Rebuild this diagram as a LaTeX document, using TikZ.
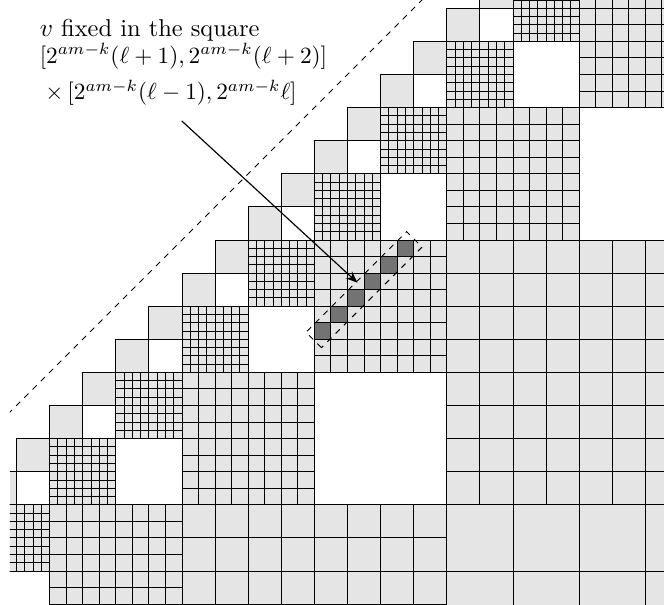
\documentclass[tikz,border=0pt]{standalone}
\usetikzlibrary{arrows.meta}
\newcommand\gridsq[3]{%
  \pgfmathsetmacro\gst{#3/8}%
  \fill[cellfill] (#1,#2) rectangle ++(#3,#3);
  \draw[gridline,shift={(#1,#2)}] (0,0) grid[step=\gst] (#3,#3);
  \draw[gridline] (#1,#2) rectangle ++(#3,#3);
}
\begin{document}
\begin{tikzpicture}[x=0.5cm,y=0.5cm,
  cellfill/.style={fill=black!10},
  gridline/.style={draw=black,line width=0.4pt},
  graybox/.style={draw=black,fill=black!10,line width=0.4pt},
  whitebox/.style={draw=black,fill=white,line width=0.4pt},
  darkcell/.style={fill=black!55},
  diagline/.style={draw=black,line width=0.4pt,dash pattern=on 2.5pt off 2.5pt},
  labeltext/.style={font=\fontsize{10.5}{12}\selectfont, inner sep=0pt, anchor=base west},
  mathtext/.style={font=\fontsize{9.95}{12}\selectfont, inner sep=0pt, anchor=base west},
]
\useasboundingbox (-0.4985,-3.997) rectangle (19.562,14.251);
\begin{scope}
\clip (-0.2,-4.1) rectangle (19.7,14.4);
% diagonal unit squares
\foreach \k in {-1,...,14} { \draw[graybox] (\k,\k) rectangle ++(1,1); }
% white unit squares
\foreach \k in {0,2,...,14} { \draw[whitebox] (\k,\k-1) rectangle ++(1,1); }
% white 2-squares
\foreach \x/\y in {-1/-5,3/-1,7/3,11/7,15/11} { \draw[whitebox] (\x,\y) rectangle ++(2,2); }
% white 4-squares
\foreach \x/\y in {9/-1,17/7} { \draw[whitebox] (\x,\y) rectangle ++(4,4); }
% gridded 2-squares
\foreach \x/\y in {-1/-3,1/-1,3/1,5/3,7/5,9/7,11/9,13/11,15/13} { \gridsq{\x}{\y}{2} }
% gridded 4-squares
\foreach \x/\y in {1/-5,5/-1,13/7,17/11} { \gridsq{\x}{\y}{4} }
% the 4-square with the marked cells
\fill[cellfill] (9,3) rectangle ++(4,4);
\foreach \t in {0,...,5} { \fill[darkcell] (9+0.5*\t,4+0.5*\t) rectangle ++(0.5,0.5); }
\draw[gridline,shift={(9,3)}] (0,0) grid[step=0.5] (4,4);
\draw[gridline] (9,3) rectangle ++(4,4);
% gridded 8-squares
\foreach \x/\y in {5/-9,13/-1} { \gridsq{\x}{\y}{8} }
% gridded 16-square
\gridsq{13}{-17}{16}
% dashed diagonal
\coordinate (diagstart) at (-2,0);
\coordinate (diagend) at (13,15);
\draw[diagline] (diagstart) -- (diagend);
\end{scope}
% dashed box around the marked cells
\draw[diagline, rotate around={45:(10.5,5.5)}] (8.35,5.17) rectangle (12.65,5.83);
% label
\node[labeltext] (lineone) at (0.69,13.16) {$v$ fixed in the square};
\node[mathtext] (linetwo) at (0.69,12.34) {$[2^{am-k}(\ell+1),2^{am-k}(\ell+2)]$};
\node[mathtext] (linethree) at (0.86,11.23) {$\times\,[2^{am-k}(\ell-1),2^{am-k}\ell]$};
\coordinate (arrowtail) at (4.99,10.6);
\coordinate (arrowtip) at (10.3,5.71);
\draw[line width=0.5pt,-{Stealth[length=5pt,width=4pt]}] (arrowtail) -- (arrowtip);
\end{tikzpicture}
\end{document}
